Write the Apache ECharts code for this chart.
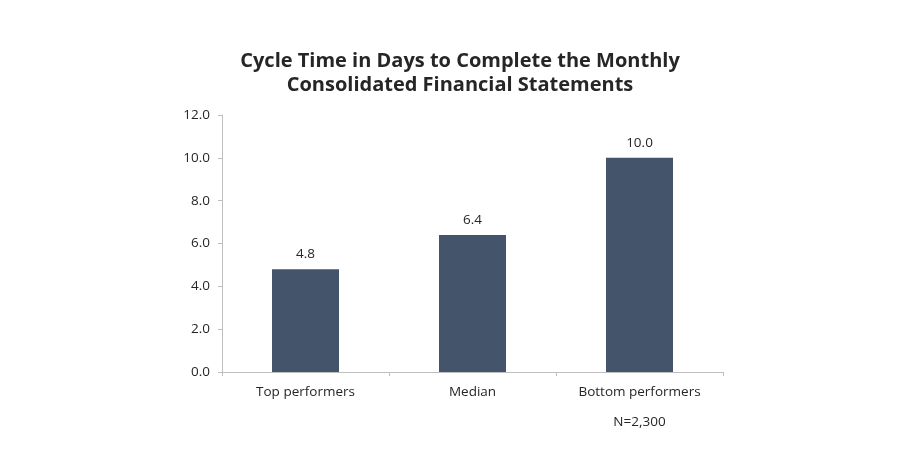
<!DOCTYPE html>
<html><head><meta charset="utf-8">
<script src="https://cdn.jsdelivr.net/npm/echarts@6/dist/echarts.min.js"></script>
<style>html,body{margin:0;padding:0;background:#fff}#c{width:920px;height:456px}</style>
</head><body><div id="c"></div>
<script>
const titleText = "Cycle Time in Days to Complete the Monthly\nConsolidated Financial Statements";
const categories = ["Top performers", "Median", "Bottom performers"];
const values = [4.8, 6.4, 10.0];
const yTicks = { min: 0, max: 12, interval: 2 };
const footnote = "N=2,300";

const chart = echarts.init(document.getElementById('c'));
chart.setOption({
  animation: false,
  backgroundColor: '#fff',
  title: {
    text: titleText,
    left: 'center', top: 44,
    textStyle: { fontFamily: 'Open Sans', fontWeight: 'bold', fontSize: 20, lineHeight: 24, color: '#262626' }
  },
  grid: { left: 222, right: 197, top: 115, bottom: 84 },
  xAxis: {
    type: 'category', data: categories,
    axisLine: { lineStyle: { color: '#bfbfbf', width: 1 } },
    axisTick: { show: true, length: 4, lineStyle: { color: '#bfbfbf' } },
    axisLabel: {
      margin: 13, color: '#262626', fontFamily: 'Open Sans', fontSize: 13.5, lineHeight: 15,
      formatter: (v, i) => i === categories.length - 1 ? v + '\n\n' + footnote : v
    }
  },
  yAxis: {
    type: 'value', min: yTicks.min, max: yTicks.max, interval: yTicks.interval,
    axisLine: { show: true, lineStyle: { color: '#bfbfbf', width: 1 } },
    axisTick: { show: true, length: 4, lineStyle: { color: '#bfbfbf' } },
    splitLine: { show: false },
    axisLabel: { margin: 12, color: '#262626', fontFamily: 'Open Sans', fontSize: 13.5, formatter: v => v.toFixed(1) }
  },
  series: [{
    type: 'bar', data: values, barWidth: 67,
    itemStyle: { color: '#44546a' },
    label: { show: true, position: 'top', distance: 8, color: '#262626', fontFamily: 'Open Sans', fontSize: 13.5, formatter: p => p.value.toFixed(1) }
  }]
});
</script></body></html>
